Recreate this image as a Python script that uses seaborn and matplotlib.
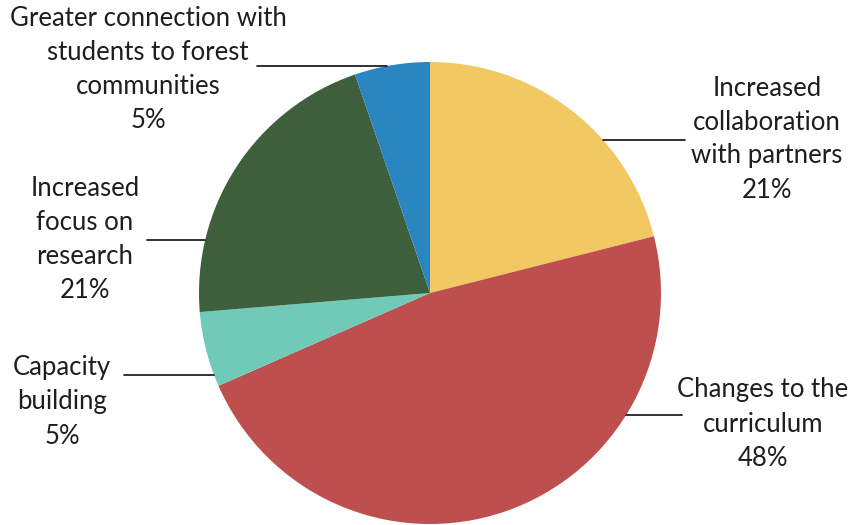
import numpy as np
import matplotlib
matplotlib.use("Agg")
import matplotlib.pyplot as plt
import seaborn as sns

# data (counts, percentages as printed on the chart)
categories = ["Increased\ncollaboration\nwith partners",
              "Changes to the\ncurriculum",
              "Capacity\nbuilding",
              "Increased\nfocus on\nresearch",
              "Greater connection with\nstudents to forest\ncommunities"]
counts = [4, 9, 1, 4, 1]
pct_labels = ["21%", "48%", "5%", "21%", "5%"]
colors = ["#F1C862", "#BE4F4F", "#6FCAB7", "#3E5F3C", "#2A86C1"]

# label layout in picture pixels (x, y of text centre, leader line start x, leader line y)
W, H = 848, 525
label_xy = [(767, 139), (763, 424), (62, 402), (85, 240), (148, 69)]
line_from = [(685, 140), (682, 415), (124, 375), (147, 240), (257, 66)]
cx, cy, r = 430, 293, 231

sns.set_theme(style="white")
plt.rcParams["font.family"] = ["Lato", "DejaVu Sans"]

fig = plt.figure(figsize=(W / 100, H / 100), dpi=100)
ax = fig.add_axes([0, 0, 1, 1])

ax.pie(counts, colors=colors, startangle=90, counterclock=False,
       center=(cx, H - cy), radius=r, wedgeprops=dict(linewidth=0))

for name, pct, (tx, ty), (lx, ly) in zip(categories, pct_labels, label_xy, line_from):
    ax.text(tx, H - ty, f"{name}\n{pct}", ha="center", va="center",
            multialignment="center", fontsize=18.5, color="#1e1e1e", linespacing=1.45)
    # horizontal leader line up to the edge of the circle
    dy = (H - ly) - (H - cy)
    dx = np.sqrt(max(r ** 2 - dy ** 2, 0))
    ex = cx + dx if lx > cx else cx - dx
    ax.plot([lx, ex], [H - ly, H - ly], color="#222222", lw=1.3)

ax.set_xlim(0, W)
ax.set_ylim(0, H)
ax.set_aspect("equal")
ax.axis("off")
fig.savefig("out.png", dpi=100, facecolor="white")
